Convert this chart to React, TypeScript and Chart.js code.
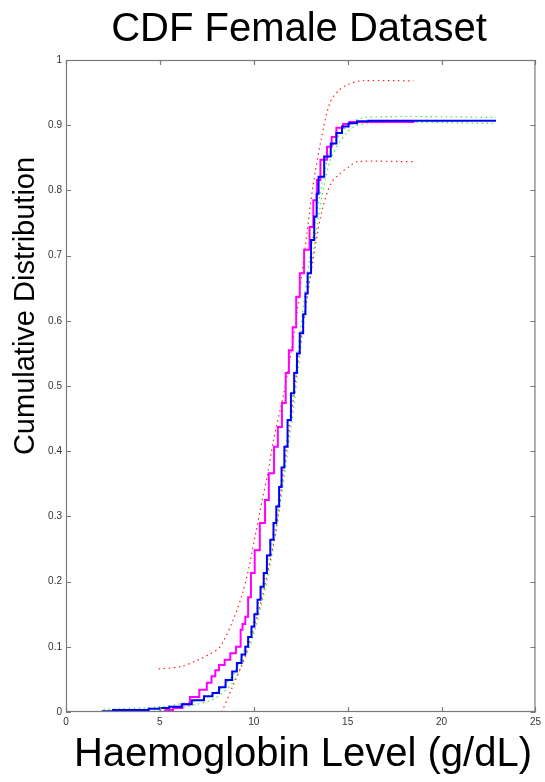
import React, { useEffect, useRef } from "react";
import { Chart, registerables } from "chart.js";

Chart.register(...registerables);

// Empirical CDF of the female sample (step function)
const empX = [5.3, 5.7, 6.2, 6.6, 7.1, 7.5, 7.75, 7.95, 8.15, 8.45, 8.75, 9.05, 9.3, 9.4, 9.55, 9.7, 9.85, 10.05, 10.32, 10.6, 10.8, 11.08, 11.28, 11.5, 11.7, 11.87, 12.07, 12.26, 12.45, 12.68, 12.97, 13.17, 13.36, 13.55, 13.9, 14.15, 14.4, 14.75, 15.1, 15.6, 18.55];
const empY = [0.0, 0.003, 0.006, 0.012, 0.023, 0.034, 0.045, 0.055, 0.064, 0.072, 0.08, 0.09, 0.1, 0.126, 0.135, 0.146, 0.176, 0.213, 0.248, 0.29, 0.325, 0.366, 0.407, 0.437, 0.474, 0.52, 0.555, 0.59, 0.637, 0.673, 0.709, 0.744, 0.785, 0.816, 0.847, 0.867, 0.882, 0.896, 0.902, 0.905, 0.905];

// Reference CDF (step function)
const refX = [1.95, 2.5, 4.4, 5.0, 5.5, 6.16, 6.7, 7.35, 7.8, 8.15, 8.5, 8.85, 9.1, 9.35, 9.55, 9.7, 9.88, 10.03, 10.2, 10.36, 10.53, 10.7, 10.88, 11.05, 11.2, 11.35, 11.48, 11.63, 11.8, 11.98, 12.15, 12.3, 12.45, 12.63, 12.75, 12.87, 13.05, 13.22, 13.35, 13.45, 13.75, 14.1, 14.4, 14.7, 15.05, 15.5, 16.1, 22.9];
const refY = [0.0, 0.001, 0.003, 0.005, 0.006, 0.008, 0.012, 0.018, 0.024, 0.029, 0.038, 0.049, 0.062, 0.075, 0.088, 0.1, 0.115, 0.131, 0.15, 0.172, 0.192, 0.213, 0.24, 0.264, 0.29, 0.315, 0.345, 0.375, 0.407, 0.448, 0.489, 0.52, 0.55, 0.581, 0.61, 0.642, 0.673, 0.724, 0.76, 0.795, 0.821, 0.852, 0.872, 0.888, 0.898, 0.903, 0.906, 0.907];

// Confidence bounds of the empirical CDF
const empUpperX = [4.94, 6.16, 7.04, 7.6, 8.2, 8.9, 9.4, 9.75, 10.1, 10.45, 10.75, 11.05, 11.6, 12.15, 12.7, 13.15, 13.58, 14.05, 14.55, 15.05, 15.7, 18.5];
const empUpperY = [0.066, 0.07, 0.08, 0.088, 0.1, 0.141, 0.182, 0.223, 0.274, 0.325, 0.366, 0.417, 0.489, 0.581, 0.704, 0.806, 0.877, 0.934, 0.954, 0.963, 0.968, 0.968];
const empLowerX = [8.3, 8.8, 9.33, 9.7, 10.08, 10.45, 10.8, 11.15, 11.6, 12.15, 12.6, 13.1, 13.6, 14.1, 14.6, 15.05, 15.5, 18.55];
const empLowerY = [0.0, 0.034, 0.07, 0.1, 0.136, 0.177, 0.223, 0.274, 0.37, 0.49, 0.59, 0.683, 0.765, 0.81, 0.826, 0.836, 0.844, 0.844];

// Confidence bounds of the reference CDF
const refUpperX = [2.0, 5.0, 7.0, 8.0, 9.0, 10.0, 11.0, 12.0, 13.0, 14.0, 15.0, 16.0, 22.9];
const refUpperY = [0.004, 0.008, 0.018, 0.03, 0.062, 0.14, 0.27, 0.47, 0.7, 0.855, 0.9, 0.912, 0.912];
const refLowerX = [2.0, 5.0, 7.0, 8.0, 9.0, 10.0, 11.0, 12.0, 13.0, 14.0, 15.0, 16.0, 22.9];
const refLowerY = [0.0, 0.002, 0.012, 0.022, 0.05, 0.12, 0.245, 0.44, 0.67, 0.84, 0.89, 0.903, 0.903];

const xTickValues = [0, 5, 10, 15, 20, 25];
const yTickValues = [0, 0.1, 0.2, 0.3, 0.4, 0.5, 0.6, 0.7, 0.8, 0.9, 1];

const TITLE = "CDF Female Dataset";
const X_LABEL = "Haemoglobin Level (g/dL)";
const Y_LABEL = "Cumulative Distribution";

const pts = (xs: number[], ys: number[]) => xs.map((x, i) => ({ x, y: ys[i] }));

const FONT = "'Liberation Sans', Arial, Helvetica, sans-serif";
const AXIS_COLOR = "#7a7a7a";

// Box around the axes with inward ticks on all four sides, plus the text labels
const framePlugin = {
  id: "frame",
  afterDraw(chart: any) {
    const { ctx, chartArea } = chart;
    const { left, right, top, bottom } = chartArea;
    const xs = chart.scales.x;
    const ys = chart.scales.y;
    ctx.save();
    ctx.strokeStyle = AXIS_COLOR;
    ctx.lineWidth = 1.2;
    ctx.strokeRect(left + 0.5, top + 0.5, right - left - 1, bottom - top - 1);
    const tl = 5;
    ctx.beginPath();
    xTickValues.forEach((v) => {
      const px = Math.round(xs.getPixelForValue(v)) + 0.5;
      ctx.moveTo(px, bottom);
      ctx.lineTo(px, bottom - tl);
      ctx.moveTo(px, top);
      ctx.lineTo(px, top + tl);
    });
    yTickValues.forEach((v) => {
      const py = Math.round(ys.getPixelForValue(v)) + 0.5;
      ctx.moveTo(left, py);
      ctx.lineTo(left + tl, py);
      ctx.moveTo(right, py);
      ctx.lineTo(right - tl, py);
    });
    ctx.stroke();

    ctx.fillStyle = "#000";
    ctx.textAlign = "center";
    ctx.textBaseline = "alphabetic";
    ctx.font = `40px ${FONT}`;
    ctx.fillText(TITLE, 299, 41);
    ctx.fillText(X_LABEL, 303, 766);
    ctx.translate(34, 306);
    ctx.rotate(-Math.PI / 2);
    ctx.font = `29px ${FONT}`;
    ctx.fillText(Y_LABEL, 0, 0);
    ctx.restore();
  },
};

export default function App() {
  const canvasRef = useRef<HTMLCanvasElement | null>(null);

  useEffect(() => {
    const canvas = canvasRef.current;
    if (!canvas) return;
    const chart = new Chart(canvas, {
      type: "line",
      data: {
        datasets: [
          {
            label: "Reference CDF",
            data: pts(refX, refY),
            borderColor: "#0000ff",
            borderWidth: 2,
            stepped: "after",
            pointRadius: 0,
            fill: false,
          },
          {
            label: "Empirical CDF",
            data: pts(empX, empY),
            borderColor: "#ff00ff",
            borderWidth: 2,
            stepped: "after",
            pointRadius: 0,
            fill: false,
          },
          {
            label: "Upper bound",
            data: pts(empUpperX, empUpperY),
            borderColor: "#ff2020",
            borderWidth: 1.2,
            borderDash: [1.5, 3.5],
            pointRadius: 0,
            tension: 0.3,
            fill: false,
          },
          {
            label: "Lower bound",
            data: pts(empLowerX, empLowerY),
            borderColor: "#ff2020",
            borderWidth: 1.2,
            borderDash: [1.5, 3.5],
            pointRadius: 0,
            tension: 0.3,
            fill: false,
          },
          {
            label: "Reference upper",
            data: pts(refUpperX, refUpperY),
            borderColor: "#33ee33",
            borderWidth: 1.2,
            borderDash: [1.5, 3.5],
            pointRadius: 0,
            tension: 0.3,
            fill: false,
          },
          {
            label: "Reference lower",
            data: pts(refLowerX, refLowerY),
            borderColor: "#33ee33",
            borderWidth: 1.2,
            borderDash: [1.5, 3.5],
            pointRadius: 0,
            tension: 0.3,
            fill: false,
          },
        ],
      },
      options: {
        responsive: false,
        animation: false,
        devicePixelRatio: 1,
        layout: { padding: { top: 60, left: 0, right: 5, bottom: 0 } },
        plugins: {
          legend: { display: false },
          tooltip: { enabled: false },
          title: { display: false },
        },
        scales: {
          x: {
            type: "linear",
            min: 0,
            max: 25,
            afterFit: (scale: any) => {
              scale.height = 70;
            },
            afterBuildTicks: (scale: any) => {
              scale.ticks = xTickValues.map((value) => ({ value }));
            },
            grid: { display: false, drawTicks: false },
            border: { display: false },
            ticks: {
              color: "#333",
              font: { family: FONT, size: 10 },
              padding: 4,
              maxRotation: 0,
              autoSkip: false,
            },
          },
          y: {
            type: "linear",
            min: 0,
            max: 1,
            afterFit: (scale: any) => {
              scale.width = 66;
            },
            afterBuildTicks: (scale: any) => {
              scale.ticks = yTickValues.map((value) => ({ value }));
            },
            grid: { display: false, drawTicks: false },
            border: { display: false },
            ticks: {
              color: "#333",
              font: { family: FONT, size: 10 },
              padding: 4,
              autoSkip: false,
              callback: (v: any) => String(Number(v)),
            },
          },
        },
      },
      plugins: [framePlugin],
    });
    return () => chart.destroy();
  }, []);

  return (
    <div style={{ position: "absolute", left: 0, top: 0, width: 545, height: 782, background: "#fff" }}>
      <canvas ref={canvasRef} width={545} height={782} />
    </div>
  );
}
